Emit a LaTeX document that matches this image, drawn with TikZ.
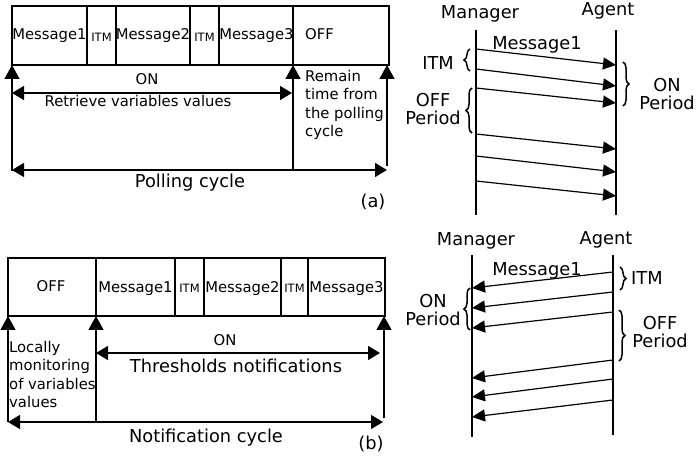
\documentclass[tikz,border=0pt]{standalone}
\usepackage{fontspec}
\setmainfont{DejaVu Sans}
\usetikzlibrary{arrows.meta,decorations.pathreplacing}
\begin{document}
\begin{tikzpicture}[x=1pt,y=-1pt,
  thin line/.style={line width=1.2pt},
  topbar/.style={line width=2.8pt},
  uparrow/.style={line width=1.3pt,-{Triangle[length=14pt,width=15pt]}},
  dblarrow/.style={line width=1.3pt,{Triangle[length=12pt,width=14pt]}-{Triangle[length=12pt,width=14pt]}},
  msgarrow/.style={line width=1.2pt,-{Triangle[length=13pt,width=12pt]}},
  lifeline/.style={line width=1.2pt},
  lbl/.style={font=\fontsize{14.8}{18.5}\selectfont, inner sep=0pt, anchor=base},
  smalllbl/.style={font=\fontsize{11.5}{13}\selectfont, inner sep=0pt, anchor=base},
  biglbl/.style={font=\fontsize{17.8}{18.5}\selectfont, inner sep=0pt, anchor=base},
  brc/.style={decorate,decoration={brace,amplitude=6pt},line width=1.5pt}]

\useasboundingbox (0,0) rectangle (697,462);

% ================= (a) polling box =================
\coordinate (aTL) at (12,6);
\coordinate (aBR) at (389,65);
\draw[thin line] (aTL) rectangle (aBR);
\draw[topbar] (12,6) -- (389,6);
\foreach \x in {87,116,190,219,293}
  \draw[thin line] (\x,6) -- (\x,65);
\node[lbl] (am1) at (49.5,40) {Message1};
\node[smalllbl] (ai1) at (101.5,41.5) {ITM};
\node[lbl] (am2) at (153,40) {Message2};
\node[smalllbl] (ai2) at (204.5,41.5) {ITM};
\node[lbl] (am3) at (256.5,40) {Message3};
\node[lbl,anchor=base west] (aoff) at (305,40) {OFF};

\coordinate (aA1b) at (12,171);  \coordinate (aA1t) at (12,65);
\coordinate (aA2b) at (293,169); \coordinate (aA2t) at (293,65);
\coordinate (aA3b) at (387,166); \coordinate (aA3t) at (387,65);
\draw[uparrow] (aA1b) -- (aA1t);
\draw[uparrow] (aA2b) -- (aA2t);
\draw[uparrow] (aA3b) -- (aA3t);

\node[lbl] (aon) at (147,85) {ON};
\coordinate (aOnL) at (12,93); \coordinate (aOnR) at (292,93);
\draw[dblarrow] (aOnL) -- (aOnR);
\node[lbl] (aret) at (138,107) {Retrieve variables values};
\node[lbl,anchor=base west,align=left] (arem) at (305,137)
  {Remain\\time from\\the polling\\cycle};

\coordinate (aPcL) at (12,170); \coordinate (aPcR) at (387,170);
\draw[dblarrow] (aPcL) -- (aPcR);
\node[biglbl] (apc) at (190,188) {Polling cycle};
\node[biglbl] (alab) at (373,208) {(a)};

% ================= (a) sequence =================
\node[biglbl] (aman) at (480,19) {Manager};
\node[biglbl] (aag) at (608,16) {Agent};
\coordinate (aMt) at (476,30); \coordinate (aMb) at (476,215);
\coordinate (aGt) at (616,30); \coordinate (aGb) at (616,215);
\draw[lifeline] (aMt) -- (aMb);
\draw[lifeline] (aGt) -- (aGb);
\foreach \s/\e [count=\i] in {49/65,69/86,88/103,134/149,156/172,181/196}{
  \coordinate (aS\i) at (476,\s);
  \coordinate (aE\i) at (616,\e);
  \draw[msgarrow] (aS\i) -- (aE\i);
}
\node[biglbl] (amsg) at (537,49.5) {Message1};
\node[biglbl] (aitm) at (438,70) {ITM};
\draw[brc] (470,71) -- (470,49);
\node[biglbl,align=center] (aoffp) at (433,125) {OFF\\Period};
\draw[brc] (472,133) -- (472,88);
\draw[brc] (623,62) -- (623,106);
\node[biglbl,align=center] (aonp) at (667,110) {ON\\Period};

% ================= (b) notification box =================
\coordinate (bTL) at (8,258);
\coordinate (bBR) at (385,316);
\draw[thin line] (bTL) rectangle (bBR);
\draw[topbar] (8,258) -- (385,258);
\foreach \x in {96,175,204,281,308}
  \draw[thin line] (\x,258) -- (\x,316);
\node[lbl] (boff) at (51,292) {OFF};
\node[lbl] (bm1) at (135.5,293) {Message1};
\node[smalllbl] (bi1) at (189.5,293) {ITM};
\node[lbl] (bm2) at (242.5,293) {Message2};
\node[smalllbl] (bi2) at (294.5,293) {ITM};
\node[lbl] (bm3) at (346.5,293) {Message3};

\coordinate (bA1b) at (8,422);  \coordinate (bA1t) at (8,316);
\coordinate (bA2b) at (96,422); \coordinate (bA2t) at (96,316);
\coordinate (bA3b) at (384,418); \coordinate (bA3t) at (384,316);
\draw[uparrow] (bA1b) -- (bA1t);
\draw[uparrow] (bA2b) -- (bA2t);
\draw[uparrow] (bA3b) -- (bA3t);

\node[lbl] (bon) at (225,346) {ON};
\coordinate (bOnL) at (96,353); \coordinate (bOnR) at (380,353);
\draw[dblarrow] (bOnL) -- (bOnR);
\node[biglbl] (bthr) at (236,373) {Thresholds notifications};
\node[lbl,anchor=base west,align=left] (bloc) at (9,408)
  {Locally\\monitoring\\of variables\\values};

\coordinate (bNcL) at (8,422); \coordinate (bNcR) at (383,422);
\draw[dblarrow] (bNcL) -- (bNcR);
\node[biglbl] (bnc) at (206,443) {Notification cycle};
\node[biglbl] (blab) at (371,450) {(b)};

% ================= (b) sequence =================
\node[biglbl] (bman) at (476,246) {Manager};
\node[biglbl] (bag) at (606,245) {Agent};
\coordinate (bMt) at (472,255); \coordinate (bMb) at (472,437);
\coordinate (bGt) at (613,255); \coordinate (bGb) at (613,435);
\draw[lifeline] (bMt) -- (bMb);
\draw[lifeline] (bGt) -- (bGb);
\foreach \s/\e [count=\i] in {272/288,292/308,312/328,360/378,379/397,400/417}{
  \coordinate (bS\i) at (613,\s);
  \coordinate (bE\i) at (472,\e);
  \draw[msgarrow] (bS\i) -- (bE\i);
}
\node[biglbl] (bmsg) at (537,276) {Message1};
\draw[brc] (620,267) -- (620,290);
\node[biglbl,anchor=base west] (bitm) at (631,285) {ITM};
\draw[brc] (470,330) -- (470,288);
\node[biglbl,align=center] (bonp) at (433,326) {ON\\Period};
\draw[brc] (619,310) -- (619,361);
\node[biglbl,align=center] (boffp) at (660,348) {OFF\\Period};
\end{tikzpicture}
\end{document}
